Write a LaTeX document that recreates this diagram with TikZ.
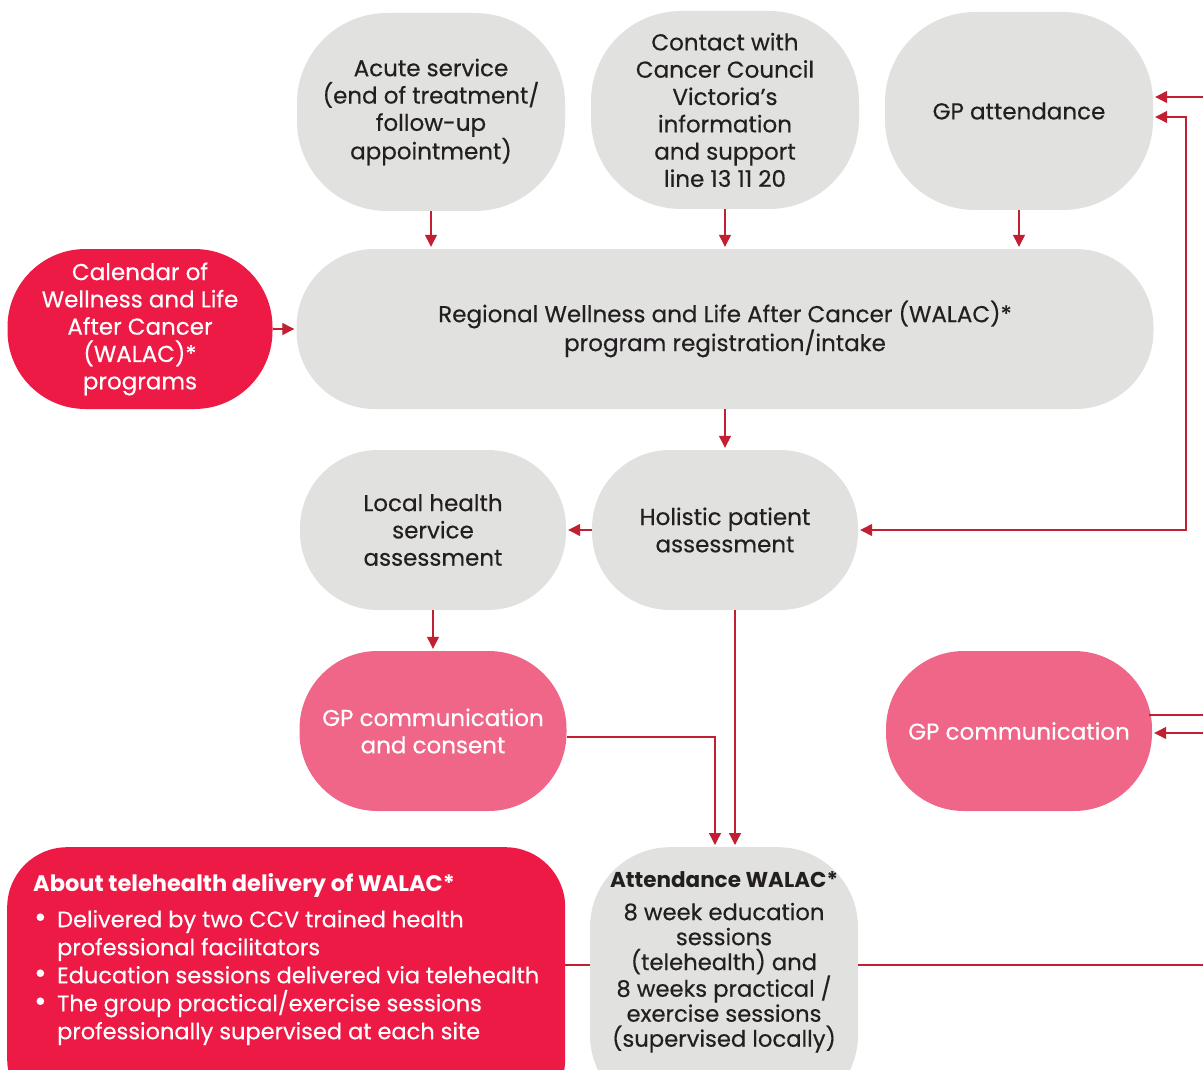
\documentclass[tikz,border=0pt]{standalone}
\usepackage{fontspec}
\setmainfont{Poppins}[UprightFeatures={FakeBold=0.4}]
\definecolor{wlGrey}{HTML}{E1E2E0}
\definecolor{wlRed}{HTML}{EC1A45}
\definecolor{wlPink}{HTML}{EF6689}
\definecolor{wlLine}{HTML}{C21F32}
\definecolor{wlText}{HTML}{231F20}
\newcommand{\wlbullet}{\makebox[24pt][l]{\hspace*{1pt}\fontsize{30}{28}\selectfont\textbullet}}
\usetikzlibrary{calc,positioning,arrows.meta}

\begin{document}
\begin{tikzpicture}[x=1pt, y=-1pt,
  blob/.style={rounded corners=90pt, fill=wlGrey, text=wlText, align=center,
    font=\fontsize{23}{27.3}\selectfont, inner sep=0pt,
    minimum width=268pt, minimum height=198pt},
  pill/.style={blob, rounded corners=78pt, minimum height=160pt},
  hotpill/.style={pill, fill=wlRed, text=white},
  pinkpill/.style={pill, fill=wlPink, text=white},
  arr/.style={-{Triangle[length=12pt, width=12pt]}, line width=1.3pt, color=wlLine, shorten >=2pt},
  biarr/.style={arr, {Triangle[length=12pt, width=12pt]}-{Triangle[length=12pt, width=12pt]}, shorten <=2pt},
  wire/.style={line width=1.3pt, color=wlLine}
]
  \useasboundingbox (0,0) rectangle (1203,1070);
  \clip (0,0) rectangle (1203,1070);
  % Entry points
  \node[blob] (acute) at (431,112) {Acute service\\(end of treatment/\\follow-up\\appointment)};
  \node[blob] (contact) at (725,110) {Contact with\\Cancer Council\\Victoria’s\\information\\and support\\line 13 11 20};
  \node[blob] (gpatt) at (1019,111) {GP attendance};
  % Intake row
  \node[hotpill, minimum width=265pt] (calendar) at (140,329) {Calendar of\\Wellness and Life\\After Cancer\\(WALAC)*\\programs};
  \node[pill, minimum width=857pt] (regional) at (725,329) {Regional Wellness and Life After Cancer (WALAC)*\\program registration/intake};
  % Assessment row
  \node[pill, minimum width=266pt] (local) at (433,530) {Local health\\service\\assessment};
  \node[pill, minimum width=266pt] (holistic) at (725,530) {Holistic patient\\assessment};
  % GP communication row
  \node[pinkpill, minimum width=267pt] (gpconsent) at (433,731) {GP communication\\and consent};
  \node[pinkpill, minimum width=266pt] (gpcomm) at (1019,731) {GP communication};
  % Program delivery
  \node[fill=wlRed, text=white, rounded corners=60pt, anchor=north west,
    inner xsep=26pt, inner ysep=26pt, font=\fontsize{22.5}{28}\selectfont] (telehealth) at (7,847)
    {\parbox[t][220pt][t]{506pt}{\raggedright
     \textbf{About telehealth delivery of WALAC*}\\[8pt]
     \wlbullet Delivered by two CCV trained health\\
     \hspace*{24pt}professional facilitators\\
     \wlbullet Education sessions delivered via telehealth\\
     \wlbullet The group practical/exercise sessions\\
     \hspace*{24pt}professionally supervised at each site}};
  \node[blob, anchor=north, minimum height=0pt, rounded corners=80pt,
    font=\fontsize{22.7}{25}\selectfont, inner ysep=24pt] (attend) at (724,847)
    {\parbox[t][220pt][t]{264pt}{\centering
     {\fontsize{21.5}{25}\selectfont\textbf{Attendance WALAC*}}\\[8pt]8 week education\\sessions\\(telehealth) and\\8 weeks practical /\\exercise sessions\\(supervised locally)}};
  % Off-page ends
  \coordinate (offgp) at (1203,97);
  \coordinate (bend) at (1186,117);
  \coordinate (offout) at (1203,715);
  \coordinate (offin) at (1203,733);
  \coordinate (offatt) at (1203,965);
  % Connectors
  \foreach \src in {acute, contact, gpatt}
    \draw[arr] (\src.south) -- (\src.south |- regional.north);
  \draw[arr] (calendar.east) -- (regional.west);
  \draw[arr] (regional.south) -- (holistic.north);
  \draw[arr] (holistic.west) -- (local.east);
  \draw[arr] (local.south) -- (gpconsent.north);
  \draw[arr] ([yshift=-6pt]gpconsent.east) -| ([xshift=-9pt]attend.north);
  \draw[arr] ([xshift=10pt]holistic.south) -- ([xshift=10pt]holistic.south |- attend.north);
  \draw[biarr] (holistic.east) -| (bend) -- (bend -| gpatt.east);
  \draw[arr] (offgp) -- (offgp -| gpatt.east);
  \draw[wire] ([xshift=-3pt]gpcomm.east |- offout) -- (offout);
  \draw[arr] (offin) -- (offin -| gpcomm.east);
  \draw[wire] (attend.east |- offatt) -- (offatt);
  \draw[wire] (telehealth.east |- offatt) -- (attend.west |- offatt);
\end{tikzpicture}
\end{document}
